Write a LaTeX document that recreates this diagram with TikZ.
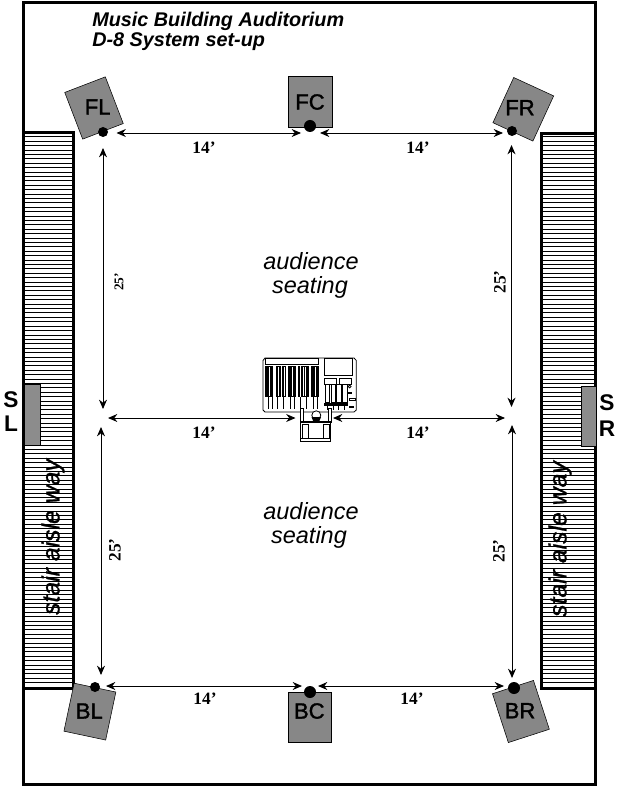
\documentclass[tikz,border=0pt]{standalone}
\usepackage{fontspec}
\setmainfont{Liberation Sans}
\newfontfamily\dimfont{Liberation Serif}
\newfontfamily\heavyfont[FakeBold=1.6]{Liberation Sans}
\newfontfamily\stairfont[FakeBold=0.9,UprightFont=* Italic]{Liberation Sans}
\usetikzlibrary{arrows.meta}
\tikzset{
  wall/.style={draw=black,line width=2.25pt},
  hatch/.style={draw=black,line width=0.75pt},
  patchbox/.style={draw=black,line width=0.4pt,fill=black!45},
  spk/.style={draw=black,line width=0.4pt,fill=black!47,inner sep=0pt},
  spklabel/.style={font=\heavyfont\fontsize{16.5}{17}\selectfont,text=black,inner sep=0pt},
  sidelabel/.style={font=\fontsize{17}{18}\selectfont\bfseries,inner sep=0pt},
  dimline/.style={draw=black,line width=0.7pt,{Stealth[length=7pt,width=6pt]}-{Stealth[length=7pt,width=6pt]}},
  dimlabel/.style={font=\dimfont\bfseries\fontsize{13}{14}\selectfont,inner sep=0pt},
  dimsmall/.style={font=\dimfont\bfseries\fontsize{10}{11}\selectfont,inner sep=0pt},
  seat/.style={font=\itshape\fontsize{17.6}{18}\selectfont,inner sep=0pt,anchor=base},
  titletext/.style={font=\bfseries\itshape\fontsize{14.85}{16}\selectfont,inner sep=0pt,anchor=base west},
  stairtext/.style={font=\stairfont\fontsize{18.6}{19}\selectfont,inner sep=0pt,rotate=90},
  dot/.style={circle,fill=black,inner sep=0pt},
  mix/.style={draw=black,line width=0.6pt,fill=white},
  mixblk/.style={draw=black,fill=black,line width=0.3pt},
  mixline/.style={draw=black,line width=0.6pt},
}
\begin{document}
\begin{tikzpicture}[x=0.75pt,y=-0.75pt]
\useasboundingbox (0,0) rectangle (631,787);
\fill[white] (0,0) rectangle (631,787);
% hatching of the aisles
\foreach \y in {137,141.4,...,686}{
  \draw[hatch] (25,\y) -- (72,\y);
  \draw[hatch] (542,\y) -- (594,\y);
}
% outer walls
\draw[wall] (23.5,2.5) rectangle (595,784.5);
\draw[wall] (23.5,133) -- (73,133) -- (73,688) -- (23.5,688);
\draw[wall] (595,134) -- (541,134) -- (541,688) -- (595,688);
% stage patches
\node[patchbox,minimum width=12pt,minimum height=45.5pt,inner sep=0pt] (stageL) at (32,414.5) {};
\node[patchbox,minimum width=11pt,minimum height=45pt,inner sep=0pt] (stageR) at (588.5,416) {};
\node[sidelabel] (lblS1) at (11,400) {S};
\node[sidelabel] (lblL) at (11,424) {L};
\node[sidelabel] (lblS2) at (607,403) {S};
\node[sidelabel] (lblR) at (607,429) {R};
% title
\node[titletext] (t1) at (92,27) {Music Building Auditorium};
\node[titletext] (t2) at (92,47) {D-8 System set-up};
% seating
\node[seat] (a1) at (311,269.5) {audience};
\node[seat] (a2) at (310,293.5) {seating};
\node[seat] (a3) at (311,519.5) {audience};
\node[seat] (a4) at (309,543.5) {seating};
\node[stairtext] (s1) at (53,537) {stair aisle way};
\node[stairtext] (s2) at (560,539) {stair aisle way};
% speakers
\node[spk,minimum width=32.6pt,minimum height=37.5pt,rotate=21] (FL) at (94,108) {};
\node[spk,minimum width=33pt,minimum height=38pt] (FC) at (310,101.5) {};
\node[spk,minimum width=33pt,minimum height=37.3pt,rotate=-24.7] (FR) at (523.3,109.3) {};
\node[spk,minimum width=32pt,minimum height=36.8pt,rotate=-12] (BL) at (89.9,711.6) {};
\node[spk,minimum width=32.6pt,minimum height=37.5pt] (BC) at (310,717) {};
\node[spk,minimum width=32.3pt,minimum height=38.5pt,rotate=18] (BR) at (520.9,711.5) {};
\node[spklabel] (tFL) at (97.7,107) {FL};
\node[spklabel] (tFC) at (310,102) {FC};
\node[spklabel] (tFR) at (520,107.7) {FR};
\node[spklabel] (tBL) at (89.3,711) {BL};
\node[spklabel] (tBC) at (309.3,711) {BC};
\node[spklabel] (tBR) at (520,710.7) {BR};
% dots
\node[dot,minimum size=7.5pt] (dFL) at (103,132) {};
\node[dot,minimum size=9pt] (dFC) at (310,126) {};
\node[dot,minimum size=7.5pt] (dFR) at (512,131) {};
\node[dot,minimum size=7.5pt] (dBL) at (95,687) {};
\node[dot,minimum size=9pt] (dBC) at (310,692) {};
\node[dot,minimum size=9pt] (dBR) at (514,688) {};
% mixer
\draw[mix] (265,358) -- (354,358) -- (356.3,360.5) -- (356.3,410) -- (354,412) -- (265,412) -- (263,410) -- (263,360.5) -- cycle;
\draw[mixline] (265.3,358) rectangle (318.7,364.7);
\draw[mixline] (324,358.7) rectangle (352,375.3);
\foreach \a/\b in {265.3/273,276/281,281.5/286.3,288/296.3,297.5/299.7,301.3/308.7,311.3/318.7}{
  \fill[black] (\a,366) rectangle (\b,397);
}
\foreach \a in {269,278.5,284,292,303,305,315}{
  \draw[white,line width=0.6pt] (\a,367) -- (\a,396);
}
\foreach \a in {268,272,277,283,290,294,300,306,313,317}{
  \draw[mixline] (\a,397) -- (\a,409);
}
\draw[mixline] (324,378.7) rectangle (336.3,384.3);
\draw[mixline] (339.7,378.7) rectangle (351.3,384.3);
\foreach \a in {325,331,336.5,342.5}{
  \draw[mixline] (\a,384.3) rectangle (\a+4.5,402);
  \draw[mixblk] (\a-0.8,403) rectangle (\a+4.5,405);
  \draw[mixline] (\a+2.2,405) -- (\a+2.2,410);
}
\draw[mixline] (349.7,386.5) circle (1.4);
\fill[black] (348,391.5) rectangle (351.5,394);
\draw[mixline] (349,398.7) rectangle (355,400.7);
\fill[black] (349,405.5) rectangle (354,407.5);
% chair and operator
\draw[mix] (300.7,422.7) rectangle (330.3,441.3);
\draw[mixline] (302.5,424.5) rectangle (308.5,438);
\draw[mixline] (323,424.5) rectangle (329,438);
\draw[mixline] (300.7,438) -- (330.3,438);
\draw[mix] (300.2,408) rectangle (303.5,422.7);
\draw[mix] (328,408) rectangle (331.5,422.7);
\draw[mix] (316.3,415.3) circle (4.5);
\fill[black] (311.5,417) -- (321,417) -- (319,422) -- (313.5,422) -- cycle;
\draw[mixline] (300.7,421.3) -- (331,421.3);
% arrow end points
\coordinate (h1a) at (116.5,133); \coordinate (h1b) at (301,133);
\coordinate (h2a) at (320,133);   \coordinate (h2b) at (503,133);
\coordinate (h3a) at (108,418);   \coordinate (h3b) at (295.5,418);
\coordinate (h4a) at (333,418);   \coordinate (h4b) at (505,418);
\coordinate (h5a) at (106,686);   \coordinate (h5b) at (302,686);
\coordinate (h6a) at (318,686);   \coordinate (h6b) at (504,686);
\coordinate (v1a) at (103,148);   \coordinate (v1b) at (103,409);
\coordinate (v2a) at (101,427);   \coordinate (v2b) at (101,675);
\coordinate (v3a) at (511.5,145); \coordinate (v3b) at (511.5,407);
\coordinate (v4a) at (512,425);   \coordinate (v4b) at (512,678);
\draw[dimline] (h1a) -- (h1b);
\draw[dimline] (h2a) -- (h2b);
\draw[dimline] (h3a) -- (h3b);
\draw[dimline] (h4a) -- (h4b);
\draw[dimline] (h5a) -- (h5b);
\draw[dimline] (h6a) -- (h6b);
\draw[dimline] (v1a) -- (v1b);
\draw[dimline] (v2a) -- (v2b);
\draw[dimline] (v3a) -- (v3b);
\draw[dimline] (v4a) -- (v4b);
% dimension labels
\node[dimlabel] (d1) at (204,148) {14’};
\node[dimlabel] (d2) at (418,148) {14’};
\node[dimlabel] (d3) at (204,433) {14’};
\node[dimlabel] (d4) at (418,433) {14’};
\node[dimlabel] (d5) at (205,699) {14’};
\node[dimlabel] (d6) at (412,699) {14’};
\node[dimsmall,rotate=90] (d7) at (119,282) {25’};
\node[dimlabel,rotate=90] (d8) at (115,550) {25’};
\node[dimlabel,rotate=90] (d9) at (500,282) {25’};
\node[dimlabel,rotate=90] (d10) at (499,551) {25’};
\end{tikzpicture}
\end{document}
